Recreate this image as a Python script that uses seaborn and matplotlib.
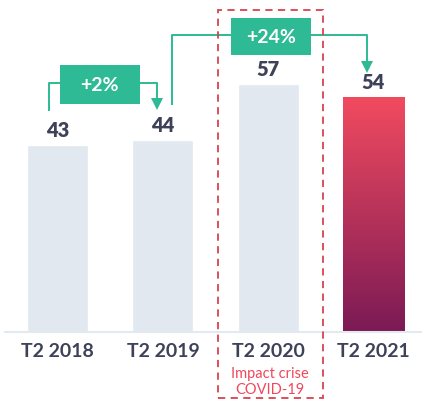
import numpy as np
import pandas as pd
import matplotlib.pyplot as plt
import seaborn as sns
from matplotlib.patches import Rectangle
from matplotlib.colors import LinearSegmentedColormap

# data
periods = ["T2 2018", "T2 2019", "T2 2020", "T2 2021"]
values = [43, 44, 57, 54]
changes = ["+2%", "+24%"]
note = "Impact crise\nCOVID-19"

df = pd.DataFrame({"period": periods, "value": values})

GREEN = "#2eba94"
TXT = "#3e4259"
LIGHT = "#e1e8ef"

sns.set_style("white")
plt.rcParams["font.family"] = ["Lato", "DejaVu Sans"]

fig = plt.figure(figsize=(4.22, 4.02), dpi=100)
ax = fig.add_axes([0, 69 / 402, 1, 333 / 402])

sns.barplot(data=df, x="period", y="value", color=LIGHT, width=0.58,
            saturation=1, ax=ax)

# gradient on the last bar
last = ax.patches[-1]
last.set_facecolor("none")
cmap = LinearSegmentedColormap.from_list("grad", ["#7b1a55", "#f24b5f"])
x0, w = last.get_x(), last.get_width()
img = ax.imshow(np.linspace(0, 1, 256).reshape(-1, 1), cmap=cmap, aspect="auto",
                origin="lower", extent=[x0, x0 + w, 0, values[-1]], zorder=2)
img.set_clip_path(last)
ax.set_xlim(-0.549, 3.462)
ax.set_ylim(0, 76.5)

# value labels
for i, v in enumerate(values):
    ax.text(i, v + 2.1, str(v), ha="center", va="baseline", fontsize=14.5,
            fontweight="heavy", color=TXT)

# axis styling
sns.despine(ax=ax, left=True, top=True, right=True)
ax.spines["bottom"].set_color("#e3e9ef")
ax.spines["bottom"].set_linewidth(1.5)
ax.spines["bottom"].set_bounds(-0.5, 3.462)
ax.set_yticks([])
ax.set_xlabel("")
ax.set_ylabel("")
ax.tick_params(axis="x", length=0, pad=7, labelsize=14, labelcolor=TXT)
for lab in ax.get_xticklabels():
    lab.set_fontweight("bold")


def change_box(ax, i0, i1, y_line, label, box_x, box_w, box_h, start_off, end_off):
    # connector from bar i0 to bar i1 with a labelled box on top
    xs = i0 - 0.085 if i0 == 0 else i0 + 0.085
    xe = i1 - 0.055 if i1 == 1 else i1 - 0.06
    ax.plot([xs, xs, box_x - box_w / 2], [values[i0] + start_off, y_line, y_line],
            color=GREEN, lw=1.4, clip_on=False, solid_capstyle="butt")
    ax.plot([box_x + box_w / 2, xe, xe], [y_line, y_line, values[i1] + end_off + 2.4],
            color=GREEN, lw=1.4, clip_on=False, solid_capstyle="butt")
    ax.plot([xe], [values[i1] + end_off + 1.3], marker="v", ms=8, color=GREEN,
            clip_on=False, markeredgewidth=0)
    ax.add_patch(Rectangle((box_x - box_w / 2, y_line - 0.4 - box_h / 2), box_w, box_h,
                           facecolor=GREEN, edgecolor="none", clip_on=False, zorder=3))
    ax.text(box_x, y_line - 0.4, label, ha="center", va="center", color="white",
            fontsize=14, fontweight="bold", zorder=4)


change_box(ax, 0, 1, 57.2, changes[0], 0.40, 0.76, 9.0, 7.8, 7.0)
change_box(ax, 1, 3, 68.3, changes[1], 2.03, 0.76, 8.7, 8.2, 5.5)

# covid highlight
ax.add_patch(Rectangle((1.523, -15.2), 1.0, 89.2, facecolor="none", edgecolor="#d5434f",
                       lw=1.3, ls=(0, (4, 3)), clip_on=False, zorder=5))
ax.text(2.02, -11.2, note, ha="center", va="center", color="#f0485c",
        fontsize=10.5, linespacing=1.15, clip_on=False)

fig.savefig("out.png", dpi=100)
